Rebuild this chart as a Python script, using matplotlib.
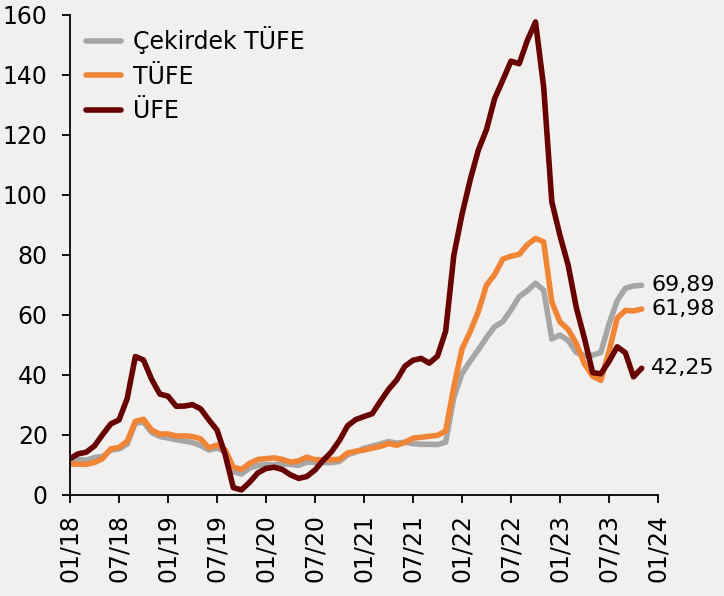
import numpy as np
import matplotlib
matplotlib.use('Agg')
import matplotlib.pyplot as plt

# annual % change, monthly, 01/2018 - 11/2023
cekirdek = [11.9, 11.8, 11.6, 12.5, 12.8, 15.0, 15.3, 17.0, 24.0, 24.3, 20.8, 19.5,
            19.0, 18.4, 18.0, 17.5, 16.5, 15.0, 15.6, 14.5, 7.8, 7.0, 9.0, 9.8,
            10.2, 10.0, 10.4, 10.2, 9.9, 10.9, 10.9, 10.8, 10.8, 11.2, 13.4, 14.3,
            15.6, 16.3, 17.0, 17.8, 17.3, 17.6, 17.1, 16.9, 16.9, 16.8, 17.6, 32.5,
            40.5, 44.6, 48.4, 52.5, 56.1, 57.8, 61.7, 66.1, 68.1, 70.6, 68.3, 52.0,
            53.3, 51.5, 47.5, 46.5, 46.6, 47.5, 57.0, 64.8, 68.9, 69.7, 69.89]
tufe = [10.35, 10.26, 10.23, 10.85, 12.15, 15.39, 15.85, 17.90, 24.52, 25.24, 21.62, 20.30,
        20.35, 19.67, 19.71, 19.50, 18.71, 15.72, 16.65, 15.01, 9.26, 8.55, 10.56, 11.84,
        12.15, 12.37, 11.86, 10.94, 11.39, 12.62, 11.76, 11.77, 11.75, 11.89, 14.03, 14.60,
        14.97, 15.61, 16.19, 17.14, 16.59, 17.53, 18.95, 19.25, 19.58, 19.89, 21.31, 36.08,
        48.69, 54.44, 61.14, 69.97, 73.50, 78.62, 79.60, 80.21, 83.45, 85.51, 84.39, 64.27,
        57.68, 55.18, 50.51, 43.68, 39.59, 38.21, 47.83, 58.94, 61.53, 61.36, 61.98]
ufe = [12.14, 13.71, 14.28, 16.37, 20.16, 23.71, 25.00, 32.13, 46.15, 45.01, 38.54, 33.64,
       32.93, 29.59, 29.64, 30.12, 28.71, 25.04, 21.66, 13.45, 2.45, 1.70, 4.26, 7.36,
       8.84, 9.26, 8.50, 6.71, 5.53, 6.17, 8.33, 11.53, 14.33, 18.20, 23.11, 25.15,
       26.16, 27.09, 31.20, 35.17, 38.33, 42.89, 44.92, 45.52, 43.96, 46.31, 54.62, 79.89,
       93.53, 105.01, 114.97, 121.82, 132.16, 138.31, 144.61, 143.75, 151.50, 157.69, 136.02, 97.72,
       86.46, 76.61, 62.43, 52.11, 40.76, 40.42, 44.50, 49.41, 47.44, 39.39, 42.25]

tick_labels = ['01/18', '07/18', '01/19', '07/19', '01/20', '07/20', '01/21',
               '07/21', '01/22', '07/22', '01/23', '07/23', '01/24']
end_labels = ['69,89', '61,98', '42,25']

bg = '#F2F0EE'
colors = ['#A6A6A6', '#F08536', '#690000']
names = ['Çekirdek TÜFE', 'TÜFE', 'ÜFE']

plt.rcParams['font.family'] = 'DejaVu Sans'
fig = plt.figure(figsize=(7.24, 5.96), dpi=100, facecolor=bg)
ax = fig.add_axes([70/724, 101/596, 588/724, 480/596], facecolor=bg)

x = np.arange(len(tufe))
series = [cekirdek, tufe, ufe]
for s, c, n in zip(series, colors, names):
    ax.plot(x, s, color=c, lw=4, label=n, solid_joinstyle='round', solid_capstyle='round')

# value labels at the end of each line
for s, lab in zip(series, end_labels):
    ax.annotate(lab, xy=(x[-1], s[-1]), xytext=(7, 0), textcoords='offset points',
                fontsize=16, va='center', ha='left', annotation_clip=False)

ax.set_xlim(0, 72)
ax.set_ylim(0, 160)
ax.set_xticks(np.arange(0, 73, 6))
ax.set_xticklabels(tick_labels, rotation=90)
ax.set_yticks(np.arange(0, 161, 20))
for sp in ['top', 'right']:
    ax.spines[sp].set_visible(False)
for sp in ['left', 'bottom']:
    ax.spines[sp].set_linewidth(1.3)
ax.tick_params(axis='both', direction='out', length=6, width=1.3, labelsize=17)
ax.tick_params(axis='y', pad=10)
ax.tick_params(axis='x', pad=8)

leg = ax.legend(loc='upper left', bbox_to_anchor=(0.027, 0.977), frameon=False,
                fontsize=17, handlelength=1.5, handletextpad=0.5, borderpad=0,
                borderaxespad=0, labelspacing=0.45)

fig.savefig('out.png', dpi=100, facecolor=bg)
